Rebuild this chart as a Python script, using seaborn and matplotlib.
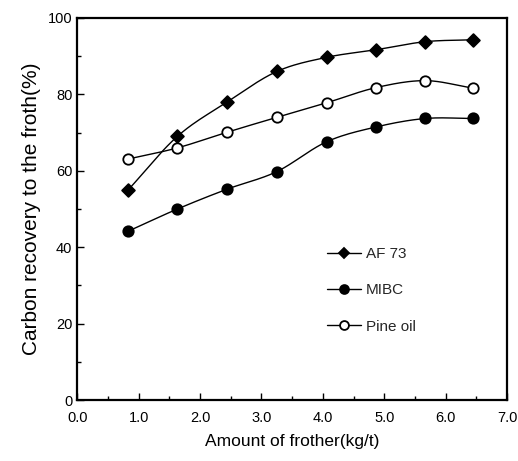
import numpy as np
import pandas as pd
import matplotlib
matplotlib.use("Agg")
import matplotlib.pyplot as plt
from matplotlib.ticker import MultipleLocator, FormatStrFormatter
import seaborn as sns

# Frother dosage (kg/t) and carbon recovery (%) for each frother
dosage = [0.83, 1.63, 2.44, 3.25, 4.06, 4.87, 5.67, 6.45]
af73 = [55.0, 69.0, 78.0, 86.0, 89.7, 91.7, 93.8, 94.3]
mibc = [44.2, 50.0, 55.2, 59.8, 67.6, 71.5, 73.7, 73.7]
pine_oil = [63.1, 66.0, 70.1, 74.0, 77.8, 81.8, 83.6, 81.6]

series_names = ["AF 73", "MIBC", "Pine oil"]
series_values = [af73, mibc, pine_oil]

sns.set_theme(style="white")
plt.rcParams["font.family"] = ["Liberation Sans", "DejaVu Sans"]

rows = []
for name, vals in zip(series_names, series_values):
    for x, y in zip(dosage, vals):
        rows.append({"frother": name, "dosage": x, "recovery": y})
df = pd.DataFrame(rows)


def smooth(x, y, n=20):
    """Catmull-Rom curve through the given points."""
    x = np.asarray(x, float)
    y = np.asarray(y, float)
    px = np.concatenate([[2 * x[0] - x[1]], x, [2 * x[-1] - x[-2]]])
    py = np.concatenate([[2 * y[0] - y[1]], y, [2 * y[-1] - y[-2]]])
    xs, ys = [], []
    t = np.linspace(0, 1, n, endpoint=False)
    for i in range(1, len(px) - 2):
        for arr, out in ((px, xs), (py, ys)):
            p0, p1, p2, p3 = arr[i - 1], arr[i], arr[i + 1], arr[i + 2]
            out.extend(0.5 * ((2 * p1) + (-p0 + p2) * t
                              + (2 * p0 - 5 * p1 + 4 * p2 - p3) * t ** 2
                              + (-p0 + 3 * p1 - 3 * p2 + p3) * t ** 3))
    xs.append(x[-1])
    ys.append(y[-1])
    return np.array(xs), np.array(ys)


fig = plt.figure(figsize=(5.18, 4.61), dpi=100)
ax = fig.add_axes([0.149, 0.132, 0.830, 0.829])

styles = {
    "AF 73": dict(marker="D", mfc="black", ms=6.5),
    "MIBC": dict(marker="o", mfc="black", ms=7.5),
    "Pine oil": dict(marker="o", mfc="white", ms=7.5),
}

for name in series_names:
    sub = df[df["frother"] == name]
    sx, sy = smooth(sub["dosage"].values, sub["recovery"].values)
    ax.plot(sx, sy, color="black", lw=1.0, zorder=2)
    st = styles[name]
    sns.scatterplot(x=sub["dosage"], y=sub["recovery"], ax=ax,
                    marker=st["marker"], s=st["ms"] ** 2,
                    color=st["mfc"], edgecolor="black", linewidth=1.3,
                    zorder=3, legend=False)
    ax.plot([], [], color="black", lw=1.0, marker=st["marker"],
            mfc=st["mfc"], mec="black", mew=1.3, ms=st["ms"], label=name)

ax.set_xlim(0, 7)
ax.set_ylim(0, 100)
ax.xaxis.set_major_locator(MultipleLocator(1))
ax.xaxis.set_minor_locator(MultipleLocator(0.5))
ax.yaxis.set_major_locator(MultipleLocator(20))
ax.yaxis.set_minor_locator(MultipleLocator(10))
ax.xaxis.set_major_formatter(FormatStrFormatter("%.1f"))
ax.tick_params(which="both", direction="in", color="black", labelsize=10.5,
               bottom=True, left=True, labelcolor="black")
ax.tick_params(which="major", length=5, width=1)
ax.tick_params(which="minor", length=3, width=1)
ax.tick_params(axis="x", pad=8)

for sp in ax.spines.values():
    sp.set_color("black")
    sp.set_linewidth(1.6)

ax.set_xlabel("Amount of frother(kg/t)", fontsize=12.5, color="black", labelpad=6)
ax.set_ylabel("Carbon recovery to the froth(%)", fontsize=15, color="black", labelpad=5)

ax.legend(loc="upper left", bbox_to_anchor=(0.55, 0.437), frameon=False,
          fontsize=11, handlelength=2.2, handletextpad=0.3, labelspacing=1.46,
          markerscale=0.85)

fig.savefig("out.png", dpi=100, facecolor="white")
